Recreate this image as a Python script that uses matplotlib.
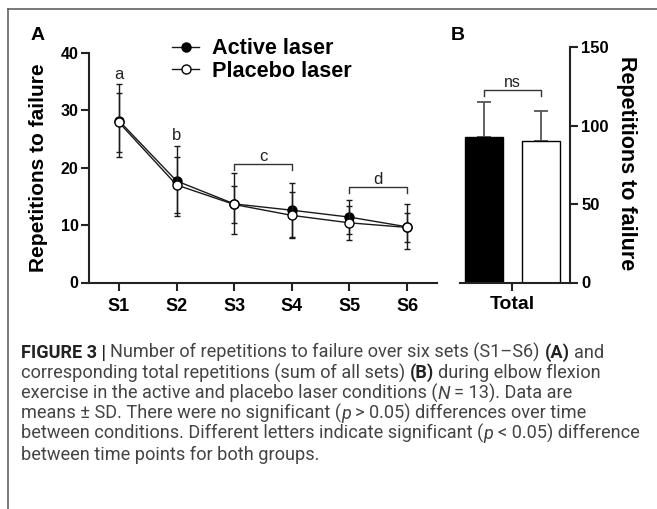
import matplotlib
matplotlib.use('Agg')
import matplotlib.pyplot as plt
from matplotlib.lines import Line2D
from matplotlib.transforms import IdentityTransform
from matplotlib import font_manager
import numpy as np

# ---------------- data ----------------
sets = ['S1', 'S2', 'S3', 'S4', 'S5', 'S6']
active_mean = [28.2, 17.7, 13.7, 12.6, 11.4, 9.7]
active_sd = [6.4, 6.1, 5.3, 4.7, 2.9, 3.9]
placebo_mean = [27.9, 17.0, 13.6, 11.7, 10.4, 9.6]
placebo_sd = [5.2, 4.9, 3.3, 4.0, 3.0, 2.6]

total_groups = ['Active laser', 'Placebo laser']
total_mean = [92.6, 90.0]
total_sd = [22.1, 19.1]
total_tick = ['Total']

letters_single = ['a', 'b']
letters_bracket = ['c', 'd']

W, H = 657, 509
plt.rcParams['font.family'] = ['Liberation Sans', 'DejaVu Sans']
fig = plt.figure(figsize=(W / 100, H / 100), dpi=100)
fig.patch.set_facecolor('white')


def fx(px):
    return px / W


def fy(py):
    return 1 - py / H


# ---------------- panel A ----------------
axA = fig.add_axes([fx(89), fy(282.5), fx(437) - fx(89), fy(53) - fy(282.5)])
x = np.arange(len(sets))
ebA = axA.errorbar(x, active_mean, yerr=active_sd, fmt='-o', color='#1a1a1a',
                   mfc='black', mec='black', ms=6.5, lw=1.0, elinewidth=1.0,
                   capsize=2.5, capthick=1.0, zorder=3, label='Active laser')
ebP = axA.errorbar(x, placebo_mean, yerr=placebo_sd, fmt='-o', color='#1a1a1a',
                   mfc='white', mec='black', mew=1.0, ms=6.5, lw=1.0, elinewidth=1.0,
                   capsize=2.5, capthick=1.0, zorder=4, label='Placebo laser')
axA.set_xlim(-0.52, 5.52)
axA.set_ylim(0, 40)
axA.set_yticks([0, 10, 20, 30, 40])
axA.set_xticks(x)
axA.set_xticklabels(sets, fontsize=13, fontweight='bold')
for lab in axA.get_yticklabels():
    lab.set_fontsize(11.5)
    lab.set_fontweight('bold')
axA.tick_params(axis='both', direction='out', length=6, width=1.5, color='#222222')
axA.tick_params(axis='y', pad=1.5)
axA.tick_params(axis='x', pad=5)
for s in ['top', 'right']:
    axA.spines[s].set_visible(False)
for s in ['left', 'bottom']:
    axA.spines[s].set_linewidth(1.5)
    axA.spines[s].set_color('#222222')
axA.set_ylabel('Repetitions to failure', fontsize=15, fontweight='bold', va='center')
axA.yaxis.set_label_coords((39 - 89) / 348, 0.5)

# significance letters
axA.text(0, 36.3, letters_single[0], ha='center', va='center', fontsize=12, color='#222222')
axA.text(1, 25.6, letters_single[1], ha='center', va='center', fontsize=12, color='#222222')
for (x0, x1, yb, lt) in [(2, 3, 20.6, letters_bracket[0]), (4, 5, 16.6, letters_bracket[1])]:
    axA.plot([x0, x0, x1, x1], [yb - 1.0, yb, yb, yb - 1.0], color='#333333', lw=1.0)
    axA.text((x0 + x1) / 2, yb + 1.4, lt, ha='center', va='center', fontsize=12, color='#222222')

leg = axA.legend(handles=[ebA.lines[0], ebP.lines[0]], labels=total_groups,
                 loc='center left', bbox_to_anchor=(fx(172), fy(60)),
                 bbox_transform=fig.transFigure, frameon=False, borderpad=0,
                 borderaxespad=0, handlelength=1.25, handletextpad=0.6,
                 labelspacing=0.05, prop={'size': 15.6, 'weight': 'bold'})

# ---------------- panel B ----------------
axB = fig.add_axes([fx(460), fy(282.5), fx(570) - fx(460), fy(47) - fy(282.5)])
xb = np.arange(len(total_groups))
axB.bar(xb, total_mean, width=0.667, color=['black', 'white'], edgecolor='black',
        linewidth=1.0, zorder=2)
axB.errorbar(xb, total_mean, yerr=[[0, 0], total_sd], fmt='none', ecolor='#555555',
             elinewidth=1.3, capsize=5, capthick=1.3, zorder=1)
axB.set_xlim(-0.421, 1.509)
axB.set_ylim(0, 150)
axB.yaxis.tick_right()
axB.yaxis.set_label_position('right')
axB.set_yticks([0, 50, 100, 150])
for lab in axB.get_yticklabels():
    lab.set_fontsize(12)
    lab.set_fontweight('bold')
axB.set_xticks([0.5])
axB.set_xticklabels(total_tick, fontsize=14, fontweight='bold')
axB.tick_params(axis='both', direction='out', length=6, width=1.5, color='#222222')
axB.tick_params(axis='y', pad=2)
axB.tick_params(axis='x', pad=4)
for s in ['top', 'left']:
    axB.spines[s].set_visible(False)
for s in ['right', 'bottom']:
    axB.spines[s].set_linewidth(1.5)
    axB.spines[s].set_color('#222222')
axB.set_ylabel('Repetitions to failure', fontsize=15.5, fontweight='bold',
               rotation=-90, va='center')
axB.yaxis.set_label_coords((627 - 460) / 110, (282.5 - 163) / 235.5)
axB.plot([0, 0, 1, 1], [118.5, 122.4, 122.4, 118.5], color='#333333', lw=1.0)
axB.text(0.5, 127.7, 'ns', ha='center', va='center', fontsize=11.5, color='#222222')

# panel letters
fig.text(fx(38), fy(35), 'A', ha='center', va='center', fontsize=14, fontweight='bold')
fig.text(fx(458), fy(35), 'B', ha='center', va='center', fontsize=14, fontweight='bold')

# frame lines
fig.add_artist(Line2D([fx(8), fx(8)], [0, fy(9)], transform=fig.transFigure,
                      color='#555555', lw=1.1))
fig.add_artist(Line2D([fx(8), 1], [fy(9), fy(9)], transform=fig.transFigure,
                      color='#555555', lw=1.1))

# ---------------- caption ----------------
cap_lines = [
    [('FIGURE 3 |', 'b'), ('Number of repetitions to failure over six sets (S1–S6)', 'n', True),
     ('(A)', 'b', True), ('and', 'n', True)],
    [('corresponding total repetitions (sum of all sets)', 'n'), ('(B)', 'b', True),
     ('during elbow flexion', 'n', True)],
    [('exercise in the active and placebo laser conditions (', 'n'), ('N', 'i', False),
     ('= 13). Data are', 'n', True)],
    [('means ± SD. There were no significant (', 'n'), ('p', 'i', False),
     ('> 0.05) differences over time', 'n', True)],
    [('between conditions. Different letters indicate significant (', 'n'), ('p', 'i', False),
     ('< 0.05) difference', 'n', True)],
    [('between time points for both groups.', 'n')],
]
cap_color = '#444444'
renderer = fig.canvas.get_renderer()

names = {f.name for f in font_manager.fontManager.ttflist}
cap_fam = ['Liberation Sans Narrow', 'Roboto'] if 'Liberation Sans Narrow' in names else ['Roboto']


def style_kw(kind):
    if kind == 'b':
        return dict(family=cap_fam, fontweight='bold', color='#222222')
    if kind == 'i':
        return dict(family=cap_fam, fontweight='normal', style='italic', color=cap_color)
    return dict(family=cap_fam, fontweight='normal', color=cap_color)


def text_w(s, kind, size):
    t = fig.text(0, 0, s, fontsize=size, transform=IdentityTransform(), **style_kw(kind))
    w = t.get_window_extent(renderer).width
    t.remove()
    return w


def line_width(line, size):
    sw = text_w('a a', 'n', size) - text_w('aa', 'n', size)
    total = 0
    for j, seg in enumerate(line):
        if j > 0 and len(seg) > 2 and seg[2]:
            total += sw
        total += text_w(seg[0], seg[1], size)
    return total


# size chosen so that the longest caption line spans the same width as in the reference
target_w = 619
cap_size = 10 * target_w / line_width(cap_lines[4], 10)
space_w = text_w('a a', 'n', cap_size) - text_w('aa', 'n', cap_size)
x0_cap = 21
base0 = 358
step = 20.3
for i, line in enumerate(cap_lines):
    xpos = x0_cap
    ybase = H - (base0 + step * i)
    for j, seg in enumerate(line):
        s, kind = seg[0], seg[1]
        lead = seg[2] if len(seg) > 2 else False
        if j > 0 and lead:
            xpos += space_w
        t = fig.text(xpos, ybase, s, fontsize=cap_size, va='baseline', ha='left',
                     transform=IdentityTransform(), **style_kw(kind))
        xpos = t.get_window_extent(renderer).x1

fig.savefig('out.png', dpi=100, facecolor='white')
